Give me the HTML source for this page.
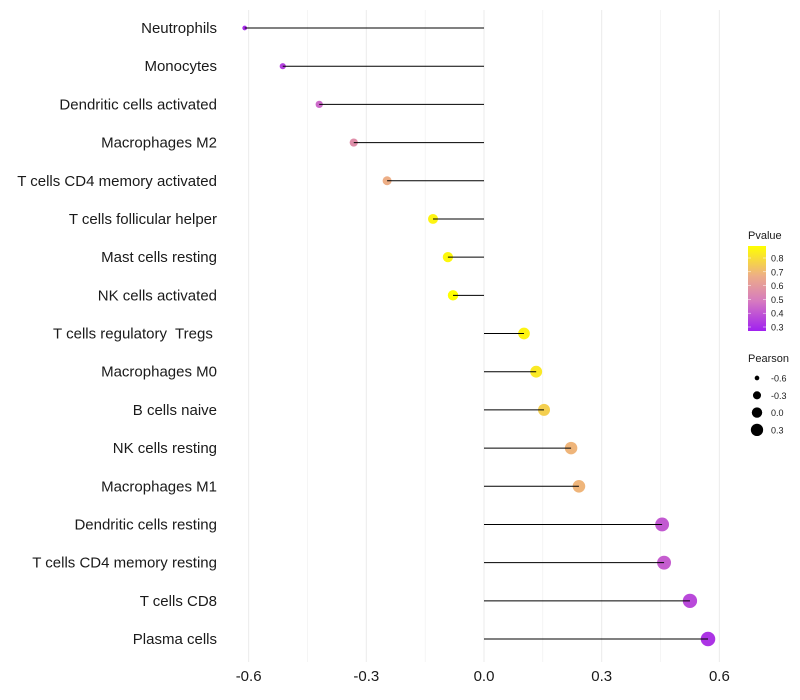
<!DOCTYPE html>
<html><head><meta charset="utf-8"><style>
body{margin:0;background:#fff;}
svg{display:block;font-family:"Liberation Sans",sans-serif;}
</style></head><body>
<svg id="c" width="800" height="700">
<defs><linearGradient id="pg" x1="0" y1="1" x2="0" y2="0">
<stop offset="0" stop-color="#A020F0"/><stop offset="0.35" stop-color="#D67AC0"/><stop offset="0.65" stop-color="#EDAE86"/><stop offset="1" stop-color="#FFFF00"/></linearGradient></defs>
</svg>
<script>
const cells=["Neutrophils","Monocytes","Dendritic cells activated","Macrophages M2","T cells CD4 memory activated","T cells follicular helper","Mast cells resting","NK cells activated","T cells regulatory  Tregs ","Macrophages M0","B cells naive","NK cells resting","Macrophages M1","Dendritic cells resting","T cells CD4 memory resting","T cells CD8","Plasma cells"];
const pearson=[-0.61,-0.513,-0.42,-0.332,-0.247,-0.13,-0.092,-0.079,0.102,0.133,0.153,0.222,0.242,0.454,0.459,0.525,0.571];
const pvalue=[0.3,0.35,0.45,0.56,0.67,0.86,0.87,0.9,0.86,0.83,0.76,0.69,0.69,0.41,0.42,0.37,0.32];
const xTicks=[-0.6,-0.3,0.0,0.3,0.6];
const xTickLabels=["-0.6","-0.3","0.0","0.3","0.6"];
const NS="http://www.w3.org/2000/svg";
const svg=document.getElementById('c');
const x=v=>484+v*392.3;
const y=i=>28+i*38.19;
const r=v=>Math.sqrt(Math.max(1,30+40*v));
function mix(a,b,t){return a.map((c,i)=>Math.round(c+(b[i]-c)*t));}
const stops=[[0.27,[160,32,240]],[0.49,[214,122,192]],[0.67,[237,174,134]],[0.89,[255,255,0]]];
function col(p){p=Math.max(0.27,Math.min(0.89,p));for(let i=0;i<stops.length-1;i++){if(p<=stops[i+1][0]){const t=(p-stops[i][0])/(stops[i+1][0]-stops[i][0]);const c=mix(stops[i][1],stops[i+1][1],t);return `rgb(${c})`;}}return 'rgb(255,255,0)';}
function el(t,a,p){const e=document.createElementNS(NS,t);for(const k in a)e.setAttribute(k,a[k]);(p||svg).appendChild(e);return e;}
for(let k=-4;k<=4;k++){const v=k*0.15;const X=x(v);
const g=el('line',{x1:X,x2:X,y1:10,y2:662,stroke:'#ebebeb','stroke-width':k%2===0?1:0.5});

}
xTicks.forEach((v,i)=>{const t=el('text',{x:x(v),y:681,'text-anchor':'middle','font-size':15,fill:'#1a1a1a'});t.textContent=xTickLabels[i];

});
cells.forEach((c,i)=>{
const t=el('text',{x:217,y:y(i)+5,'text-anchor':'end','font-size':15,fill:'#1a1a1a',style:'white-space:pre'});t.textContent=c;


const d=el('circle',{cx:x(pearson[i]),cy:y(i),r:r(pearson[i]),fill:col(pvalue[i])});


const l=el('line',{x1:x(0),x2:x(pearson[i]),y1:y(i),y2:y(i),stroke:'#000','stroke-width':1});


});
const lt=el('text',{x:748,y:239,'font-size':11,fill:'#1a1a1a'});lt.textContent='Pvalue';


const bar=el('rect',{x:748,y:246,width:18,height:85,fill:'url(#pg)'});


const pTicks=[0.8,0.7,0.6,0.5,0.4,0.3];
pTicks.forEach(p=>{const Y=327-(p-0.3)*138;
el('line',{x1:748,x2:751,y1:Y,y2:Y,stroke:'#fff','stroke-width':0.5});
el('line',{x1:763,x2:766,y1:Y,y2:Y,stroke:'#fff','stroke-width':0.5});
const t=el('text',{x:771,y:Y+3.5,'font-size':9,fill:'#1a1a1a'});t.textContent=p.toFixed(1);

});
const st=el('text',{x:748,y:362,'font-size':11,fill:'#1a1a1a'});st.textContent='Pearson';


const sizeKeys=[-0.6,-0.3,0.0,0.3];
sizeKeys.forEach((v,i)=>{const Y=378+i*17.3;
const c=el('circle',{cx:757,cy:Y,r:r(v)*0.95,fill:'#000'});


const t=el('text',{x:771,y:Y+3.5,'font-size':9,fill:'#1a1a1a'});t.textContent=v.toFixed(1);

});
</script>
</body></html>
